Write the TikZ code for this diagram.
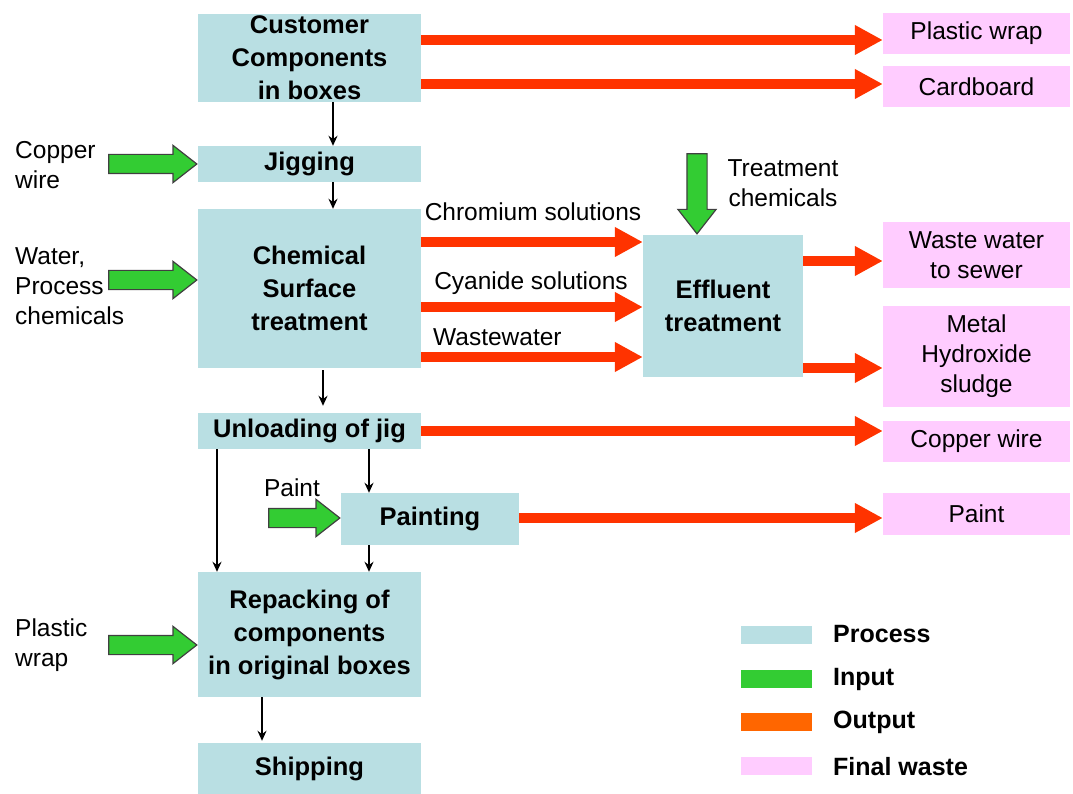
\documentclass[tikz,border=0pt]{standalone}
\usepackage{fontspec}
\setmainfont{Liberation Sans}
\usetikzlibrary{arrows.meta,shapes.arrows}
\definecolor{procc}{HTML}{B9DFE3}
\definecolor{wastec}{HTML}{FFCCFF}
\definecolor{outc}{HTML}{FF3300}
\definecolor{legoutc}{HTML}{FF6600}
\definecolor{inc}{HTML}{33CC33}
\tikzset{
  proc/.style={fill=procc, inner sep=0pt, align=center, minimum width=223, font=\bfseries\fontsize{25.5}{33}\selectfont},
  waste/.style={fill=wastec, inner sep=0pt, align=center, minimum width=187, font=\fontsize{24.5}{30}\selectfont},
  lbl/.style={inner sep=0pt, font=\fontsize{24.5}{30}\selectfont},
  outarr/.style={draw=outc, line width=10pt, -{Triangle[width=28pt,length=28pt]}},
  flow/.style={draw=black, line width=2pt, -{Stealth[length=10pt,width=9pt]}},
  inarr/.style={single arrow, fill=inc, draw=black!75, line width=1.2pt, inner sep=0pt,
    single arrow head extend=9pt, single arrow tip angle=76, anchor=tip},
  legbox/.style={inner sep=0pt, minimum width=71, minimum height=18},
  leglbl/.style={inner sep=0pt, anchor=west, font=\bfseries\fontsize{25}{30}\selectfont}
}
\newcommand{\shaftstrut}{\rule{0pt}{18pt}}
\newcommand{\shaftstrutv}{\rule{19pt}{0pt}}
\begin{document}
\begin{tikzpicture}[x=1pt,y=-1pt]
\useasboundingbox (0,0) rectangle (1073,794);
% process boxes
\node[proc, minimum height=88] (cust) at (309.5,58) {Customer\\Components\\in boxes};
\node[proc, minimum height=36] (jig) at (309.5,164) {Jigging};
\node[proc, minimum height=159] (chem) at (309.5,288.5) {Chemical\\Surface\\treatment};
\node[proc, minimum height=36] (unl) at (309.5,431) {Unloading of jig};
\node[proc, minimum width=178, minimum height=52] (paint) at (430,519) {Painting};
\node[proc, minimum height=125] (rep) at (309.5,634.5) {Repacking of\\components\\in original boxes};
\node[proc, minimum height=51] (ship) at (309.5,768.5) {Shipping};
\node[proc, minimum width=160, minimum height=142] (eff) at (723,306) {Effluent\\treatment};
% final waste
\node[waste, minimum height=41] (pw) at (976.5,33.5) {Plastic wrap};
\node[waste, minimum height=41] (cb) at (976.5,86.5) {Cardboard};
\node[waste, minimum height=66] (ww) at (976.5,255) {Waste water\\to sewer};
\node[waste, minimum height=101] (mh) at (976.5,356.5) {Metal\\Hydroxide\\sludge};
\node[waste, minimum height=41] (cw) at (976.5,441.5) {Copper wire};
\node[waste, minimum height=42] (pt) at (976.5,514) {Paint};
% helper coordinates
\coordinate (c1) at (333,40);
\coordinate (c2) at (333,84);
\coordinate (cx) at (323,0);
\coordinate (lx) at (217,0);
\coordinate (px) at (369,0);
\coordinate (sx) at (262,0);
\coordinate (rCr) at (0,242);
\coordinate (rCy) at (0,307);
\coordinate (rWw) at (0,357);
\coordinate (rE1) at (0,261);
\coordinate (rE2) at (0,368);
\coordinate (rU) at (0,431);
\coordinate (rP) at (0,518);
\coordinate (rW) at (0,280);
\coordinate (rPl) at (0,645);
\coordinate (tx) at (697,0);
% output arrows
\draw[outarr] (cust.east |- c1) -- (pw.west |- c1);
\draw[outarr] (cust.east |- c2) -- (cb.west |- c2);
\draw[outarr] (chem.east |- rCr) -- (eff.west |- rCr);
\draw[outarr] (chem.east |- rCy) -- (eff.west |- rCy);
\draw[outarr] (chem.east |- rWw) -- (eff.west |- rWw);
\draw[outarr] (eff.east |- rE1) -- (ww.west |- rE1);
\draw[outarr] (eff.east |- rE2) -- (mh.west |- rE2);
\draw[outarr] (unl.east |- rU) -- (cw.west |- rU);
\draw[outarr] (paint.east |- rP) -- (pt.west |- rP);
\node[lbl] (lcr) at (533,212) {Chromium solutions};
\node[lbl] (lcy) at (531,283) {Cyanide solutions};
\node[lbl, anchor=west] (lww) at (433,337) {Wastewater};
% flow arrows
\draw[flow] (cust.south -| c1) -- (jig.north -| c1);
\draw[flow] (jig.south -| c1) -- (chem.north -| c1);
\draw[flow, shorten <=2pt, shorten >=7pt] (chem.south -| cx) -- (unl.north -| cx);
\draw[flow] (unl.south -| lx) -- (rep.north -| lx);
\draw[flow] (unl.south -| px) -- (paint.north -| px);
\draw[flow] (paint.south -| px) -- (rep.north -| px);
\draw[flow, shorten >=2pt] (rep.south -| sx) -- (ship.north -| sx);
% input arrows
\node[inarr, minimum height=88] (in1) at (jig.west) {\shaftstrut};
\node[inarr, minimum height=88] (in2) at (chem.west |- rW) {\shaftstrut};
\node[inarr, minimum height=88] (in3) at (rep.west |- rPl) {\shaftstrut};
\node[inarr, minimum height=71] (in4) at (paint.west |- rP) {\shaftstrut};
\node[inarr, minimum height=80, shape border rotate=270] (in5) at (eff.north -| tx) {\shaftstrutv};
\node[lbl, anchor=west, align=left] (t1) at (15,165) {Copper\\wire};
\node[lbl, anchor=west, align=left] (t2) at (15,286) {Water,\\Process\\chemicals};
\node[lbl, anchor=west, align=left] (t3) at (15,645) {Plastic\\wrap};
\node[lbl] (t4) at (292,488) {Paint};
\node[lbl, align=center] (t5) at (783,183) {Treatment\\chemicals};
% legend
\node[legbox, fill=procc] (g1) at (776.5,635) {};
\node[legbox, fill=inc] (g2) at (776.5,679) {};
\node[legbox, fill=legoutc] (g3) at (776.5,722) {};
\node[legbox, fill=wastec] (g4) at (776.5,766) {};
\node[leglbl] (gl1) at (833,634) {Process};
\node[leglbl] (gl2) at (833,679) {Input};
\node[leglbl] (gl3) at (833,722) {Output};
\node[leglbl] (gl4) at (833,767) {Final waste};
\end{tikzpicture}
\end{document}
